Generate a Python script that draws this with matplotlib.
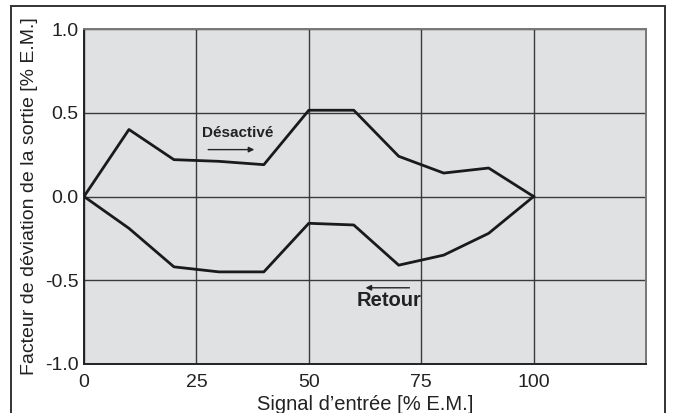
import matplotlib
matplotlib.use("Agg")
import matplotlib.pyplot as plt
from matplotlib.patches import Rectangle

plt.rcParams['font.family'] = ['Liberation Sans', 'DejaVu Sans']

signal = [0, 10, 20, 30, 40, 50, 60, 70, 80, 90, 100]
desactive = [0.0, 0.40, 0.22, 0.21, 0.19, 0.515, 0.515, 0.24, 0.14, 0.17, 0.0]
retour = [0.0, -0.19, -0.42, -0.45, -0.45, -0.16, -0.17, -0.41, -0.35, -0.22, 0.0]
xticks = [0, 25, 50, 75, 100]
yticks = [-1.0, -0.5, 0.0, 0.5, 1.0]

W, H = 674, 413
fig = plt.figure(figsize=(W / 100, H / 100), dpi=100)
ax = fig.add_axes([84 / W, 1 - 364 / H, (646 - 84) / W, (364 - 29) / H])

# outer frame round the whole chart
fig.patches.append(Rectangle((11 / W, -0.05), (665 - 11) / W, 1 - 6 / H + 0.05,
                             transform=fig.transFigure, fill=False,
                             edgecolor='#333333', linewidth=1.4))

ax.set_facecolor('#e0e1e3')
ax.set_xlim(0, 125)
ax.set_ylim(-1.0, 1.0)
ax.set_xticks(xticks)
ax.set_yticks(yticks)
ax.set_yticklabels(['%.1f' % v for v in yticks])
ax.tick_params(length=0, labelsize=14, colors='#222222')
ax.tick_params(axis='x', pad=7)
ax.tick_params(axis='y', pad=4)
ax.grid(True, color='#3a3a3a', linewidth=1.0)
ax.set_axisbelow(True)
for s in ['left', 'bottom']:
    ax.spines[s].set_color('#222222')
    ax.spines[s].set_linewidth(1.4)
for s in ['top', 'right']:
    ax.spines[s].set_color('#777777')
    ax.spines[s].set_linewidth(1.4)

ax.plot(signal, desactive, color='#1a1a1a', linewidth=2.0, zorder=3)
ax.plot(signal, retour, color='#1a1a1a', linewidth=2.0, zorder=3)

ax.text(34.2, 0.38, 'Désactivé', fontsize=11, fontweight='bold', ha='center',
        va='center', color='#222222')
ax.annotate('', xy=(38.5, 0.28), xytext=(27, 0.28),
            arrowprops=dict(arrowstyle='-|>', color='#222222', lw=1.0,
                            mutation_scale=8))
ax.text(67.8, -0.62, 'Retour', fontsize=14.5, fontweight='bold', ha='center',
        va='center', color='#222222')
ax.annotate('', xy=(62, -0.545), xytext=(73, -0.545),
            arrowprops=dict(arrowstyle='-|>', color='#222222', lw=1.0,
                            mutation_scale=8))

ax.set_xlabel("Signal d\u2019entrée [% E.M.]", fontsize=14.5, color='#222222',
              labelpad=3)
ax.set_ylabel('Facteur de déviation de la sortie [% E.M.]', fontsize=14,
              color='#222222', labelpad=5)

fig.savefig('out.png', dpi=100)
